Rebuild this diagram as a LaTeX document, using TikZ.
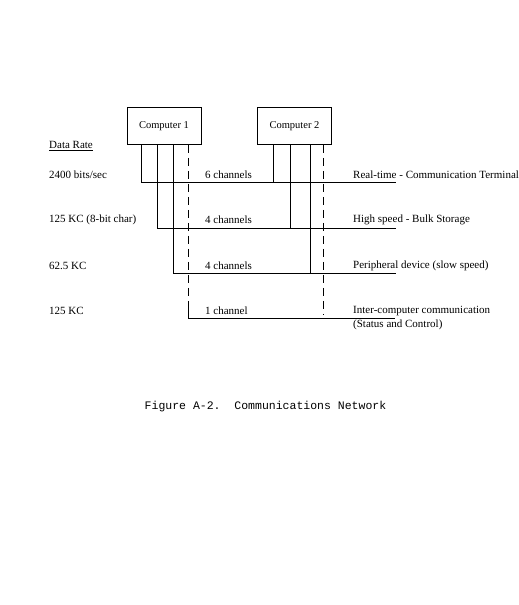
\documentclass[tikz,border=0pt]{standalone}
\usepackage{fontspec}
\setmainfont{Liberation Serif}
\setmonofont{Liberation Mono}
\usepackage{tikz}
\usetikzlibrary{positioning,calc}
\tikzset{
    comp/.style={rectangle, draw, line width=0.8pt, minimum width=74pt, minimum height=37pt, font=\fontsize{10.5}{12}\selectfont},
    bus/.style={line width=0.8pt},
    ctrl/.style={line width=0.8pt, dash pattern=on 8pt off 5pt},
    txt/.style={anchor=west, inner sep=0pt, font=\fontsize{11}{12}\selectfont},
    captxt/.style={inner sep=0pt, font=\ttfamily\fontsize{11.5}{13}\selectfont},
}

\begin{document}
\begin{tikzpicture}[x=1pt,y=-1pt]
    \useasboundingbox (0,0) rectangle (519,605);
    \node[comp] (C1) at (164,126) {Computer 1};
    \node[comp] (C2) at (294.5,126) {Computer 2};
    % bus ends on the right
    \coordinate (rt) at (396,182);
    \coordinate (hs) at (396,228);
    \coordinate (pd) at (396,273);
    \coordinate (ic) at (395,318);
    % taps under the computers
    \coordinate (c1a) at ($(C1.south west)+(15,0)$);
    \coordinate (c1b) at ($(C1.south west)+(31,0)$);
    \coordinate (c1c) at ($(C1.south west)+(47,0)$);
    \coordinate (c1d) at ($(C1.south west)+(62,0)$);
    \coordinate (c2a) at ($(C2.south west)+(16,0)$);
    \coordinate (c2b) at ($(C2.south west)+(33,0)$);
    \coordinate (c2c) at ($(C2.south west)+(53,0)$);
    \coordinate (c2d) at ($(C2.south west)+(66,0)$);
    \draw[bus] (c1a) |- (rt);
    \draw[bus] (c1b) |- (hs);
    \draw[bus] (c1c) |- (pd);
    \draw[ctrl] (c1d) -- ($(c1d |- ic)+(0,-9)$);
    \draw[bus] ($(c1d |- ic)+(0,-9)$) |- (ic);
    \draw[bus] (c2a) -- (c2a |- rt);
    \draw[bus] (c2b) -- (c2b |- hs);
    \draw[bus] (c2c) -- (c2c |- pd);
    \draw[ctrl] (c2d) -- ($(c2d |- ic)+(0,-3)$);
    % data rates
    \node[txt] (dr) at (49,146) {\underline{Data Rate}};
    \node[txt] (r1) at (49,175) {2400 bits/sec};
    \node[txt] (r2) at (49,220) {125 KC (8-bit char)};
    \node[txt] (r3) at (49,266) {62.5 KC};
    \node[txt] (r4) at (49,311) {125 KC};
    % channels
    \node[txt] (n1) at (205,175) {6 channels};
    \node[txt] (n2) at (205,220) {4 channels};
    \node[txt] (n3) at (205,266) {4 channels};
    \node[txt] (n4) at (205,311) {1 channel};
    % devices
    \node[txt] (d1) at (353,175) {Real-time - Communication Terminal};
    \node[txt] (d2) at (353,220) {High speed - Bulk Storage};
    \node[txt] (d3) at (353,266) {Peripheral device (slow speed)};
    \node[txt] (d4) at (353,311) {Inter-computer communication};
    \node[txt] (d5) at (353,325) {(Status and Control)};
    \node[captxt] (cap) at (265.5,407) {Figure A-2.\ \ Communications Network};
\end{tikzpicture}
\end{document}
